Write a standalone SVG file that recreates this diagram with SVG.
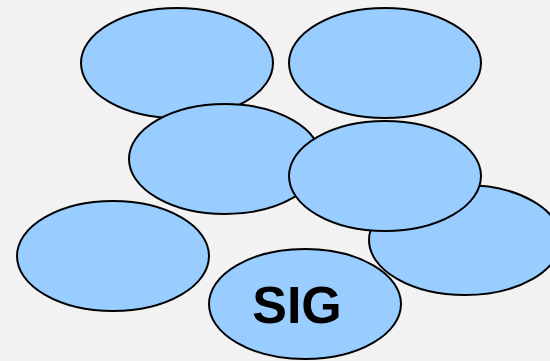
<svg xmlns="http://www.w3.org/2000/svg" width="550" height="361" viewBox="0 0 550 361">
<style>
.n{fill:#99ccff;stroke:#000;stroke-width:2}
.t{font-family:"Liberation Sans",Arial,sans-serif;font-weight:bold;font-size:52px;fill:#000;text-anchor:middle}
</style>
<rect width="550" height="361" fill="#f2f2f2"/>
<g id="connectors"></g>
<g id="n1"><ellipse class="n" cx="177" cy="63" rx="96" ry="55"/></g>
<g id="n2"><ellipse class="n" cx="385" cy="63" rx="96" ry="55"/></g>
<g id="n3"><ellipse class="n" cx="225" cy="159" rx="96" ry="55"/></g>
<g id="n4"><ellipse class="n" cx="465" cy="240" rx="96" ry="55"/></g>
<g id="n5"><ellipse class="n" cx="385" cy="176" rx="96" ry="55"/></g>
<g id="n6"><ellipse class="n" cx="113" cy="256" rx="96" ry="55"/></g>
<g id="n7"><ellipse class="n" cx="305" cy="304" rx="96" ry="55"/><text class="t" x="297" y="323">SIG</text></g>
</svg>
